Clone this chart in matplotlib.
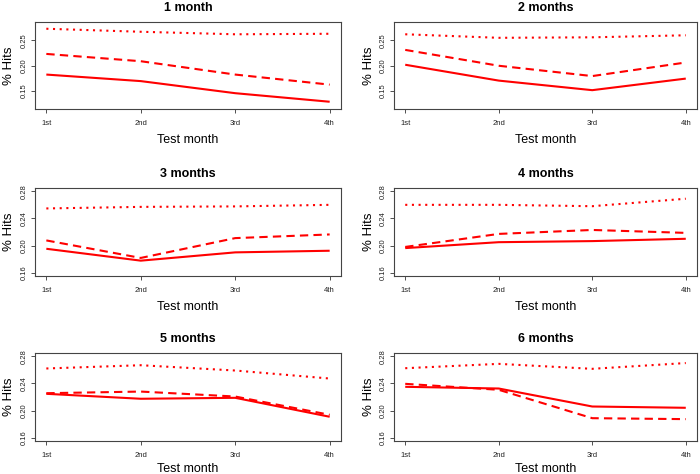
import matplotlib
matplotlib.use("Agg")
import matplotlib.pyplot as plt

plt.rcParams['font.family'] = ['Liberation Sans', 'DejaVu Sans']

months = ["1st", "2nd", "3rd", "4th"]
titles = ["1 month", "2 months", "3 months", "4 months", "5 months", "6 months"]

# solid, dashed, dotted series for each panel
solid = [
    [0.182, 0.169, 0.145, 0.128],
    [0.2015, 0.170, 0.151, 0.174],
    [0.1953, 0.1778, 0.190, 0.1924],
    [0.1963, 0.205, 0.2066, 0.210],
    [0.2247, 0.2174, 0.2188, 0.1909],
    [0.235, 0.2325, 0.206, 0.2041],
]
dashed = [
    [0.223, 0.2085, 0.182, 0.162],
    [0.231, 0.1995, 0.179, 0.206],
    [0.2076, 0.1818, 0.211, 0.2164],
    [0.198, 0.2172, 0.223, 0.2187],
    [0.2256, 0.228, 0.2207, 0.1938],
    [0.2394, 0.2306, 0.1888, 0.1874],
]
dotted = [
    [0.273, 0.267, 0.262, 0.263],
    [0.262, 0.255, 0.256, 0.260],
    [0.2547, 0.257, 0.2577, 0.260],
    [0.260, 0.260, 0.258, 0.269],
    [0.262, 0.2668, 0.259, 0.2472],
    [0.2624, 0.2688, 0.2615, 0.270],
]
ylims = [(0.12, 0.28), (0.12, 0.28), (0.16, 0.28), (0.16, 0.28), (0.16, 0.28), (0.16, 0.28)]
yticks = [[0.15, 0.20, 0.25], [0.15, 0.20, 0.25]] + [[0.16, 0.20, 0.24, 0.28]] * 4

W, H = 700, 474
fig = plt.figure(figsize=(7, 4.74), dpi=100)

cols = [(35, 306), (394, 303)]
rows = [(22, 109), (188, 276), (353, 441)]

x = [1, 2, 3, 4]
for i in range(6):
    cl, cw = cols[i % 2]
    rt, rb = rows[i // 2]
    ax = fig.add_axes([cl / W, 1 - rb / H, cw / W, (rb - rt) / H])
    ax.plot(x, solid[i], color="red", lw=1.5, solid_capstyle="butt")
    ax.plot(x, dashed[i], color="red", lw=1.5, linestyle=(0, (4, 2.5)))
    ax.plot(x, dotted[i], color="red", lw=1.5, linestyle=(0, (1, 2.2)))
    lo, hi = ylims[i]
    pad = (hi - lo) * 0.04
    ax.set_ylim(lo - pad, hi + pad)
    ax.set_xlim(1 - 0.12, 4 + 0.12)
    ax.set_xticks(x)
    ax.set_xticklabels(months)
    ax.set_yticks(yticks[i])
    ax.set_yticklabels(["%.2f" % v for v in yticks[i]], rotation=90, va="center")
    ax.tick_params(axis="both", labelsize=5.5, length=3, width=0.6, color="#333333",
                   labelcolor="#222222")
    ax.tick_params(axis="x", pad=5)
    ax.tick_params(axis="y", pad=2)
    for s in ax.spines.values():
        s.set_color("#444444")
        s.set_linewidth(0.8)
    ax.set_title(titles[i], fontsize=9, fontweight="bold", pad=8)
    # bottom row sits right at the figure edge
    ax.set_xlabel("Test month", fontsize=9, labelpad=5 if i < 4 else 3)
    ax.set_ylabel("% Hits", fontsize=9.5, labelpad=4)

fig.savefig("out.png", dpi=100)
